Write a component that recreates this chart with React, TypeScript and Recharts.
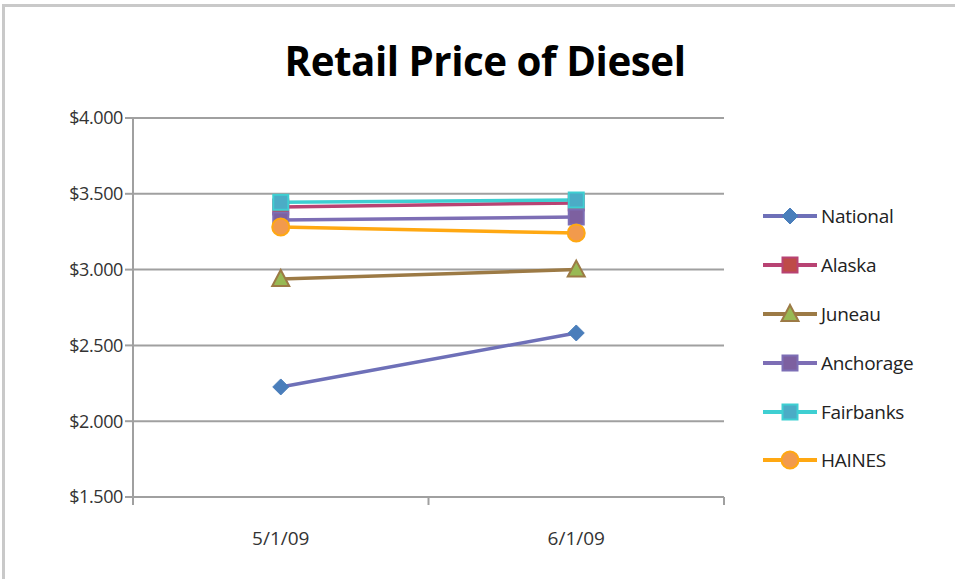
import React from "react";
import { LineChart, Line, XAxis, YAxis, CartesianGrid } from "recharts";

const categories = ["5/1/09", "6/1/09"];
const national = [2.226, 2.582];
const alaska = [3.413, 3.44];
const juneau = [2.938, 3.0];
const anchorage = [3.327, 3.347];
const fairbanks = [3.444, 3.459];
const haines = [3.281, 3.241];
const yTicks = [1.5, 2.0, 2.5, 3.0, 3.5, 4.0];

const data = categories.map((c, i) => ({
  idx: i,
  label: c,
  National: national[i],
  Alaska: alaska[i],
  Juneau: juneau[i],
  Anchorage: anchorage[i],
  Fairbanks: fairbanks[i],
  HAINES: haines[i],
}));

type Shape = "diamond" | "square" | "triangle" | "circle";

const series: { key: string; line: string; fill: string; stroke: string; shape: Shape }[] = [
  { key: "National", line: "#6E70B8", fill: "#4A7EBB", stroke: "#4A7EBB", shape: "diamond" },
  { key: "Alaska", line: "#B84373", fill: "#BE4B48", stroke: "#B84373", shape: "square" },
  { key: "Juneau", line: "#9C7A45", fill: "#98B954", stroke: "#9C7A45", shape: "triangle" },
  { key: "Anchorage", line: "#7D6EB5", fill: "#7D60A0", stroke: "#7D6EB5", shape: "square" },
  { key: "Fairbanks", line: "#3ECFD2", fill: "#4BACC6", stroke: "#3ECFD2", shape: "square" },
  { key: "HAINES", line: "#FFA812", fill: "#F29A4C", stroke: "#FFA812", shape: "circle" },
];

// draws one marker centred on cx, cy
function marker(shape: Shape, cx: number, cy: number, fill: string, stroke: string) {
  switch (shape) {
    case "diamond":
      return <path d={`M${cx},${cy - 8} L${cx + 8},${cy} L${cx},${cy + 8} L${cx - 8},${cy} Z`} fill={fill} stroke={fill} strokeWidth={1} />;
    case "square":
      return <rect x={cx - 7.5} y={cy - 7.5} width={15} height={15} fill={fill} stroke={stroke} strokeWidth={2} />;
    case "triangle":
      return <path d={`M${cx},${cy - 9} L${cx + 8.5},${cy + 7} L${cx - 8.5},${cy + 7} Z`} fill={fill} stroke={stroke} strokeWidth={2} />;
    default:
      return <circle cx={cx} cy={cy} r={8.5} fill={fill} stroke={stroke} strokeWidth={2} />;
  }
}

const XTick = (props: any) => {
  const { x, y, payload } = props;
  const v = payload.value;
  if (Math.abs(v - Math.round(v)) > 0.01) {
    return <line x1={x} y1={y - 8} x2={x} y2={y} stroke="#a0a0a0" strokeWidth={2} />;
  }
  return (
    <text x={x} y={y + 40} textAnchor="middle" fill="#333" fontSize={19} fontFamily="'Open Sans', sans-serif">
      {categories[Math.round(v)]}
    </text>
  );
};

export default function App() {
  return (
    <div
      style={{
        position: "absolute",
        left: 0,
        top: 0,
        width: 955,
        height: 579,
        background: "#fff",
        overflow: "hidden",
      }}
    >
      <div
        style={{
          position: "absolute",
          left: 2,
          top: 4,
          width: 960,
          height: 590,
          borderTop: "3px solid #c9c9c9",
          borderLeft: "3px solid #c9c9c9",
        }}
      />
      <div
        style={{
          position: "absolute",
          top: 31,
          left: 0,
          width: 970,
          textAlign: "center",
          fontFamily: "'Open Sans', sans-serif",
          fontWeight: 700,
          fontSize: 42,
          color: "#000",
          letterSpacing: -0.5,
          transform: "scaleX(0.96)",
        }}
      >
        Retail Price of Diesel
      </div>
      <div style={{ position: "absolute", left: 0, top: 0 }}>
        <LineChart width={955} height={579} data={data} margin={{ top: 118, right: 231, bottom: 0, left: 0 }}>
          <CartesianGrid horizontal vertical={false} stroke="#a0a0a0" strokeWidth={2} />
          <XAxis
            dataKey="idx"
            type="number"
            domain={[-0.5, 1.5]}
            ticks={[-0.5, 0, 0.5, 1, 1.5]}
            tickLine={false}
            axisLine={{ stroke: "#a0a0a0", strokeWidth: 2 }}
            tick={<XTick />}
            interval={0}
            height={82}
          />
          <YAxis
            domain={[1.5, 4]}
            ticks={yTicks}
            width={133}
            interval={0}
            tickFormatter={(v: number) => `$${v.toFixed(3)}`}
            axisLine={{ stroke: "#a0a0a0", strokeWidth: 2 }}
            tickLine={{ stroke: "#a0a0a0", strokeWidth: 2 }}
            tickSize={8}
            tick={{ fill: "#333", fontSize: 18, fontFamily: "'Open Sans', sans-serif", letterSpacing: -0.4 }}
          />
          {series.map((s) => (
            <Line
              key={s.key}
              dataKey={s.key}
              stroke={s.line}
              strokeWidth={3.5}
              isAnimationActive={false}
              dot={(p: any) => <g key={`${s.key}-${p.index}`}>{marker(s.shape, p.cx, p.cy, s.fill, s.stroke)}</g>}
            />
          ))}
        </LineChart>
      </div>
      <div
        style={{
          position: "absolute",
          left: 761,
          top: 192,
          fontFamily: "'Open Sans', sans-serif",
          fontSize: 19,
          color: "#222",
        }}
      >
        {series.map((s) => (
          <div key={s.key} style={{ display: "flex", alignItems: "center", height: 48.8 }}>
            <svg width={58} height={24}>
              <line x1={2} y1={12} x2={56} y2={12} stroke={s.line} strokeWidth={4} />
              {marker(s.shape, 29, 12, s.fill, s.stroke)}
            </svg>
            <span style={{ marginLeft: 2, letterSpacing: -0.3 }}>{s.key}</span>
          </div>
        ))}
      </div>
    </div>
  );
}
